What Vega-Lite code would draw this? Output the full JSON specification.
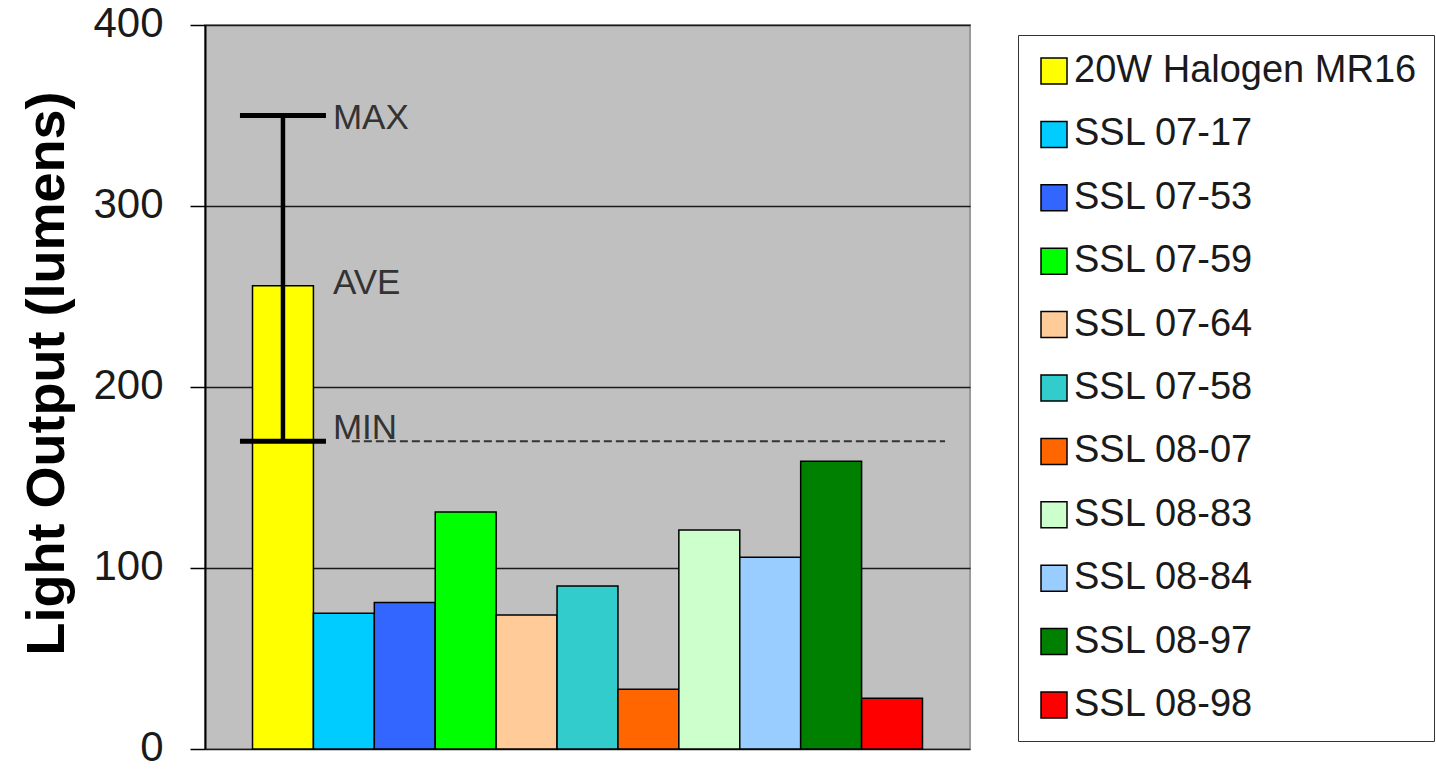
{
  "$schema": "https://vega.github.io/schema/vega-lite/v6.json",
  "width": 765,
  "height": 724,
  "autosize": "none",
  "padding": {"left": 205, "top": 25, "right": 466, "bottom": 20},
  "background": "white",
  "config": {
    "font": "Liberation Sans",
    "view": {"fill": "#C0C0C0", "stroke": "#9A9A9A", "strokeWidth": 2}
  },
  "datasets": {
    "bars": [
      {"name": "20W Halogen MR16", "lumens": 256},
      {"name": "SSL 07-17", "lumens": 75},
      {"name": "SSL 07-53", "lumens": 81},
      {"name": "SSL 07-59", "lumens": 131},
      {"name": "SSL 07-64", "lumens": 74},
      {"name": "SSL 07-58", "lumens": 90},
      {"name": "SSL 08-07", "lumens": 33},
      {"name": "SSL 08-83", "lumens": 121},
      {"name": "SSL 08-84", "lumens": 106},
      {"name": "SSL 08-97", "lumens": 159},
      {"name": "SSL 08-98", "lumens": 28}
    ],
    "spread": [
      {"name": "20W Halogen MR16", "lo": 170, "ave": 256, "hi": 350}
    ],
    "minline": [
      {"from": "SSL 07-17", "to": "SSL 08-98", "lo": 170}
    ],
    "tags": [
      {"name": "20W Halogen MR16", "label": "MAX", "value": 350},
      {"name": "20W Halogen MR16", "label": "AVE", "value": 256},
      {"name": "20W Halogen MR16", "label": "MIN", "value": 170}
    ]
  },
  "layer": [
    {
      "data": {"name": "bars"},
      "mark": {"type": "bar", "stroke": "black", "strokeWidth": 1.5},
      "encoding": {
        "x": {
          "field": "name",
          "type": "nominal",
          "sort": null,
          "scale": {
            "domain": ["20W Halogen MR16", "SSL 07-17", "SSL 07-53", "SSL 07-59", "SSL 07-64", "SSL 07-58", "SSL 08-07", "SSL 08-83", "SSL 08-84", "SSL 08-97", "SSL 08-98"],
            "paddingInner": 0,
            "paddingOuter": 0.78
          },
          "axis": null
        },
        "y": {
          "field": "lumens",
          "type": "quantitative",
          "scale": {"domain": [0, 400], "nice": false},
          "axis": {
            "values": [0, 100, 200, 300, 400],
            "title": "Light Output (lumens)",
            "titleFontSize": 54,
            "titleFontWeight": "bold",
            "titleColor": "black",
            "titlePadding": 18,
            "titleY": 348,
            "labelFontSize": 42,
            "labelOffset": -2,
            "labelColor": "#1a1a1a",
            "labelPadding": 27,
            "labelFont": "Liberation Sans",
            "tickSize": 15,
            "tickColor": "black",
            "tickWidth": 1.5,
            "domainColor": "black",
            "domainWidth": 2,
            "grid": true,
            "gridColor": "#1a1a1a",
            "gridWidth": 1.5
          }
        },
        "color": {
          "field": "name",
          "type": "nominal",
          "scale": {
            "domain": ["20W Halogen MR16", "SSL 07-17", "SSL 07-53", "SSL 07-59", "SSL 07-64", "SSL 07-58", "SSL 08-07", "SSL 08-83", "SSL 08-84", "SSL 08-97", "SSL 08-98"],
            "range": ["#FFFF00", "#00CCFF", "#3366FF", "#00FF00", "#FFCC99", "#33CCCC", "#FF6600", "#CCFFCC", "#99CCFF", "#008000", "#FF0000"]
          },
          "legend": {
            "orient": "none",
            "legendX": 813,
            "legendY": 10,
            "title": null,
            "strokeColor": "#333333",
            "fillColor": "white",
            "padding": 17,
            "symbolType": "square",
            "symbolSize": 676,
            "symbolStrokeColor": "black",
            "symbolStrokeWidth": 1.5,
            "symbolOpacity": 1,
            "labelFontSize": 38,
            "labelFont": "Liberation Sans",
            "labelColor": "#1a1a1a",
            "labelOffset": 1,
            "labelLimit": 600,
            "rowPadding": 25.4
          }
        }
      }
    },
    {
      "data": {"name": "minline"},
      "mark": {"type": "rule", "color": "#333333", "strokeWidth": 2, "strokeDash": [8, 4], "xOffset": 8, "x2Offset": 53},
      "encoding": {
        "x": {"field": "from", "type": "nominal"},
        "x2": {"field": "to"},
        "y": {"field": "lo", "type": "quantitative"}
      }
    },
    {
      "data": {"name": "spread"},
      "mark": {"type": "rule", "color": "black", "strokeWidth": 4.5},
      "encoding": {
        "x": {"field": "name", "type": "nominal"},
        "y": {"field": "lo", "type": "quantitative"},
        "y2": {"field": "hi"}
      }
    },
    {
      "data": {"name": "spread"},
      "mark": {"type": "tick", "orient": "horizontal", "color": "black", "size": 86, "thickness": 5, "opacity": 1},
      "encoding": {
        "x": {"field": "name", "type": "nominal"},
        "y": {"field": "hi", "type": "quantitative"}
      }
    },
    {
      "data": {"name": "spread"},
      "mark": {"type": "tick", "orient": "horizontal", "color": "black", "size": 86, "thickness": 5, "opacity": 1},
      "encoding": {
        "x": {"field": "name", "type": "nominal"},
        "y": {"field": "lo", "type": "quantitative"}
      }
    },
    {
      "data": {"name": "tags"},
      "transform": [{"filter": "datum.label === 'MAX'"}],
      "mark": {"type": "text", "align": "left", "baseline": "middle", "dx": 50, "dy": 2, "fontSize": 35, "color": "#333333"},
      "encoding": {
        "x": {"field": "name", "type": "nominal"},
        "y": {"field": "value", "type": "quantitative"},
        "text": {"field": "label"}
      }
    },
    {
      "data": {"name": "tags"},
      "transform": [{"filter": "datum.label === 'AVE'"}],
      "mark": {"type": "text", "align": "left", "baseline": "middle", "dx": 50, "dy": -3, "fontSize": 35, "color": "#333333"},
      "encoding": {
        "x": {"field": "name", "type": "nominal"},
        "y": {"field": "value", "type": "quantitative"},
        "text": {"field": "label"}
      }
    },
    {
      "data": {"name": "tags"},
      "transform": [{"filter": "datum.label === 'MIN'"}],
      "mark": {"type": "text", "align": "left", "baseline": "middle", "dx": 50, "dy": -13, "fontSize": 35, "color": "#333333"},
      "encoding": {
        "x": {"field": "name", "type": "nominal"},
        "y": {"field": "value", "type": "quantitative"},
        "text": {"field": "label"}
      }
    }
  ]
}
